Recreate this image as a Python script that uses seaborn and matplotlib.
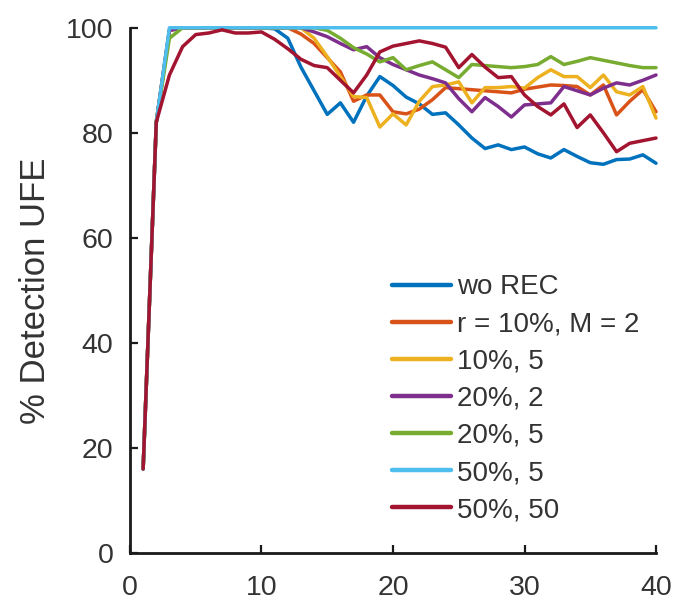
import numpy as np
import pandas as pd
import matplotlib
matplotlib.use("Agg")
import matplotlib.pyplot as plt
import seaborn as sns

steps = list(range(1, 41))

labels = ["wo REC", "r = 10%, M = 2", "10%, 5", "20%, 2", "20%, 5", "50%, 5", "50%, 50"]
colors = ["#0072BD", "#D95319", "#EDB120", "#7E2F8E", "#77AC30", "#4DBEEE", "#A2142F"]

wo_rec = [16, 82, 99.5, 100, 100, 100, 100, 100, 100, 100,
          99.8, 98, 92.5, 88, 83.5, 85.7, 82, 87, 90.7, 89,
          86.8, 85.5, 83.5, 83.8, 81.5, 79, 77, 77.7, 76.8, 77.3,
          76, 75.2, 76.8, 75.5, 74.3, 74, 74.9, 75, 75.8, 74.2]
r10_m2 = [16, 82, 99.5, 100, 100, 100, 100, 100, 100, 100,
          100, 100, 98.8, 97, 94.3, 91.6, 86, 87.2, 87.2, 84,
          83.6, 84.5, 86.3, 88.6, 88.4, 88.2, 88, 87.8, 87.6, 88.3,
          88.7, 89.1, 89, 88.8, 87.2, 89.1, 83.4, 86, 88.2, 84]
r10_m5 = [16, 82, 99.5, 100, 100, 100, 100, 100, 100, 100,
          100, 100, 100, 98, 94.5, 90.7, 86.9, 86.7, 81.1, 83.6,
          81.5, 86, 88.8, 89.1, 89.7, 85.7, 88.6, 88.6, 88.8, 88.5,
          90.5, 92, 90.7, 90.7, 88.6, 91, 87.8, 87.2, 88.8, 82.8]
r20_m2 = [16, 82, 99.5, 100, 100, 100, 100, 100, 100, 100,
          100, 100, 100, 99.2, 98.3, 97, 95.8, 96.4, 94.3, 93,
          92, 91, 90.3, 89.5, 86.5, 84, 86.7, 85, 83, 85.3,
          85.5, 85.7, 88.8, 88, 87.2, 88.5, 89.5, 89.1, 90, 91]
r20_m5 = [16, 82, 98, 100, 100, 100, 100, 100, 100, 100,
          100, 100, 100, 100, 99.5, 98, 96.2, 95, 93.5, 94.3,
          92, 92.8, 93.5, 92, 90.5, 93, 92.8, 92.6, 92.4, 92.6,
          93, 94.5, 93, 93.6, 94.3, 93.8, 93.3, 92.8, 92.4, 92.4]
r50_m5 = [16, 82, 100, 100, 100, 100, 100, 100, 100, 100,
          100, 100, 100, 100, 100, 100, 100, 100, 100, 100,
          100, 100, 100, 100, 100, 100, 100, 100, 100, 100,
          100, 100, 100, 100, 100, 100, 100, 100, 100, 100]
r50_m50 = [16, 82, 91, 96.4, 98.7, 99, 99.6, 99, 99, 99.2,
           97.8, 96, 94, 92.8, 92.4, 90, 87.6, 91, 95.4, 96.5,
           97, 97.5, 97, 96.3, 92.4, 94.9, 92.5, 90.5, 90.7, 87.2,
           85, 83.4, 85.5, 81, 83.4, 80, 76.4, 78, 78.5, 79]

series = [wo_rec, r10_m2, r10_m5, r20_m2, r20_m5, r50_m5, r50_m50]

df = pd.DataFrame({
    "step": np.tile(steps, len(labels)),
    "value": np.concatenate(series),
    "config": np.repeat(labels, len(steps)),
})

sns.set_theme(style="white")
plt.rcParams["font.family"] = ["Liberation Sans", "DejaVu Sans"]

fig = plt.figure(figsize=(6.77, 6.03), dpi=100)
ax = fig.add_axes([0.192, 0.083, 0.777, 0.871])

sns.lineplot(data=df, x="step", y="value", hue="config", hue_order=labels,
             palette=colors, linewidth=2.5, ax=ax, legend=True)
for ln in ax.get_lines():
    ln.set_clip_on(False)

ax.set_xlim(0, 40)
ax.set_ylim(0, 100)
ax.set_xticks([0, 10, 20, 30, 40])
ax.set_yticks([0, 20, 40, 60, 80, 100])
ax.set_xlabel("")
ax.set_ylabel("% Detection UFE", fontsize=25, color="#333333", labelpad=10)
ax.tick_params(axis="both", direction="in", length=6, width=1.6,
               labelsize=20.5, colors="#1a1a1a", left=True, bottom=True)
ax.tick_params(axis="y", pad=12, labelcolor="#333333")
ax.tick_params(axis="x", pad=16, labelcolor="#333333")
for s in ["top", "right"]:
    ax.spines[s].set_visible(False)
for s in ["left", "bottom"]:
    ax.spines[s].set_color("#1a1a1a")
    ax.spines[s].set_linewidth(2.0)

leg = ax.legend(loc="lower right", bbox_to_anchor=(1.0, 0.025), frameon=False,
                fontsize=20, handlelength=2.15, handletextpad=0.2,
                labelspacing=0.4, borderaxespad=0.2)
for t in leg.get_texts():
    t.set_color("#333333")
for line in leg.get_lines():
    line.set_linewidth(3.2)

fig.savefig("out.png", dpi=100, facecolor="white")
